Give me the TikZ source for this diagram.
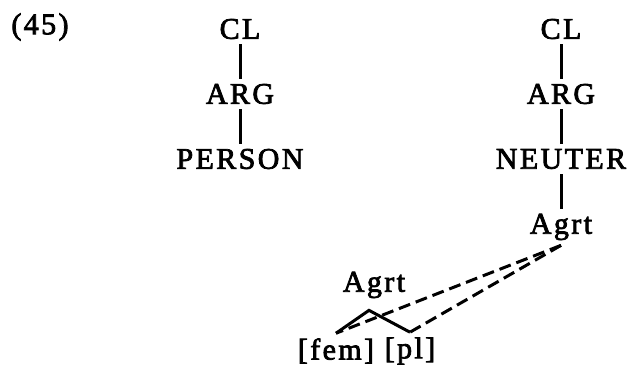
\documentclass[tikz,border=0pt]{standalone}
\usepackage{fontspec}
\setmainfont{Liberation Serif}[LetterSpace=8, FakeBold=2.5]
\usetikzlibrary{positioning}

\begin{document}
\begin{tikzpicture}[
    x=1pt, y=-1pt,
    node distance=65pt, on grid,
    cat/.style={font=\fontsize{30}{34}\selectfont, inner sep=5pt},
    branch/.style={line width=3pt},
    assoc/.style={line width=3pt, dash pattern=on 12pt off 6pt}
]
\useasboundingbox (0,0) rectangle (643,368);
\node[cat] (ex) at (40,27) {(45)};
\node[cat] (cla) at (240,29) {CL};
\node[cat, below=of cla] (arga) {ARG};
\node[cat, below=of arga] (person) {PERSON};
\node[cat] (clb) at (561,29) {CL};
\node[cat, below=of clb] (argb) {ARG};
\node[cat, below=of argb] (neuter) {NEUTER};
\node[cat, below=68pt of neuter] (agrt) {Agrt};
\node[cat] (agrtlow) at (374,285) {Agrt};
\node[cat] (fem) at (336,351) {[fem]};
\node[cat] (pl) at (410,351) {[pl]};

\draw[branch] (fem.north) -- ([shift={(-5pt,-7pt)}]agrtlow.south) -- (pl.north);
\draw[branch] (cla) -- (arga);
\draw[branch] (arga) -- (person);
\draw[branch] (clb) -- (argb);
\draw[branch] (argb) -- (neuter);
\draw[branch] (neuter) -- (agrt);
\draw[assoc] (agrt.south) -- (fem.north);
\draw[assoc] (agrt.south) -- (pl.north);
\end{tikzpicture}
\end{document}
